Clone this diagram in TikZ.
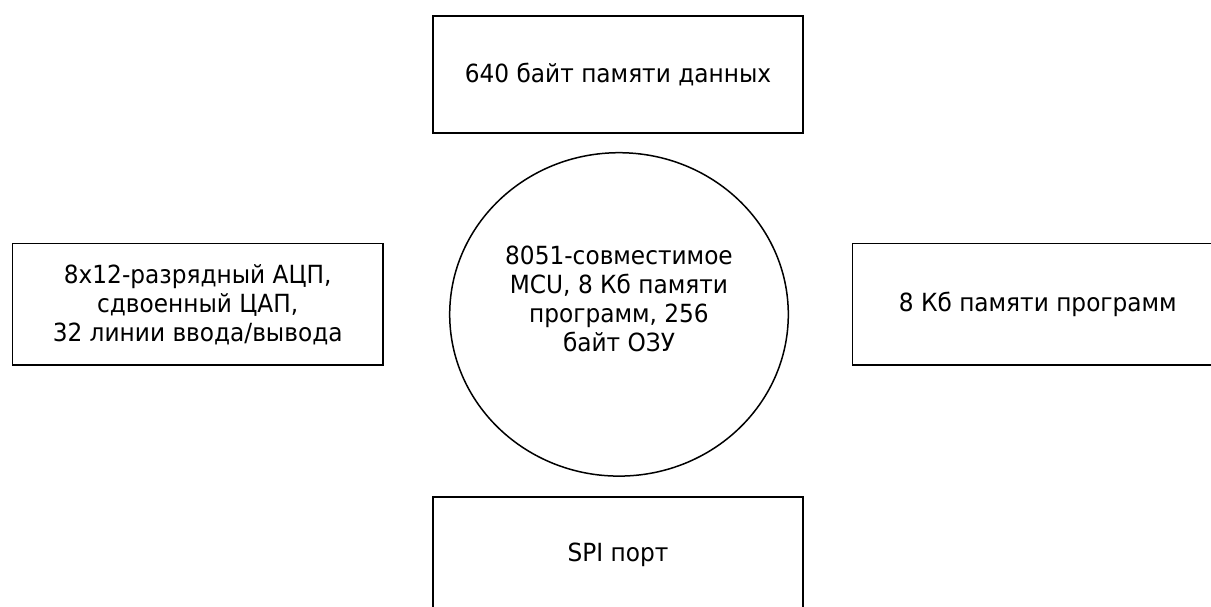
\documentclass[tikz,border=0pt]{standalone}
\usepackage{fontspec}
\setmainfont[FakeStretch=0.93]{DejaVu Sans}
\usetikzlibrary{shapes.geometric}
\begin{document}
\begin{tikzpicture}[x=1pt,y=1pt,
  box/.style={draw=black,line width=1.8pt,minimum width=370.5pt,inner sep=0pt,align=center,font=\fontsize{25}{29}\selectfont},
  lbl/.style={align=center,inner sep=0pt,font=\fontsize{25}{29}\selectfont}]
\useasboundingbox (0,0) rectangle (1211,-606);
\node[box,minimum height=117pt] (top) at (618,-74.2) {640 байт памяти данных};
\node[box,minimum height=121.5pt] (left) at (197.7,-304.3) {8x12-разрядный АЦП,\\сдвоенный ЦАП,\\32 линии ввода/вывода};
\node[box,minimum height=121.5pt] (right) at (1037.8,-304.3) {8 Кб памяти программ};
\node[box,minimum height=117pt] (bottom) at (618,-555.2) {SPI порт};
\node[ellipse,draw=black,line width=1.5pt,minimum width=338.6pt,minimum height=323.4pt,inner sep=0pt] (mcu) at (619,-314.4) {};
\node[lbl] (mcutext) at (619,-299) {8051-совместимое\\MCU, 8 Кб памяти\\программ, 256\\байт ОЗУ};
\end{tikzpicture}
\end{document}
